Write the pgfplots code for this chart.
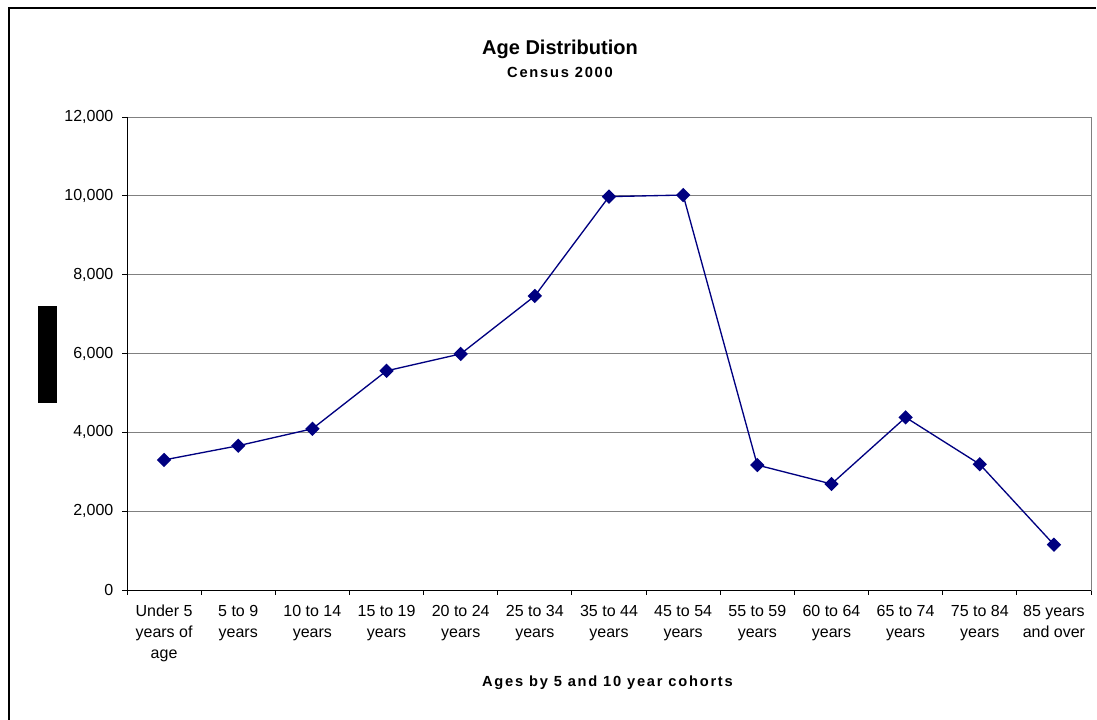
\documentclass[border=0pt]{standalone}
\usepackage{fontspec}
\setmainfont{Liberation Sans}
\usepackage{pgfplots}
\pgfplotsset{compat=1.18}

\definecolor{navyline}{HTML}{000080}
\definecolor{gridgray}{HTML}{808080}

\begin{document}
\begin{tikzpicture}
\useasboundingbox (0,0) rectangle (822.75pt,539.25pt);

% outer chart frame (only top and left edges visible)
\draw[black, line width=1pt] (6.75pt,-2pt) -- (6.75pt,533.25pt) -- (822pt,533.25pt);

\begin{axis}[
    name=ax,
    at={(95.25pt,96.75pt)}, anchor=south west,
    scale only axis, width=723pt, height=354.75pt,
    xmin=-0.5, xmax=12.5,
    ymin=0, ymax=12000,
    xtick={-0.5,0.5,...,12.5},
    xticklabels={},
    extra x ticks={0,1,2,3,4,5,6,7,8,9,10,11,12},
    extra x tick labels={{Under 5\\years of\\age},{5 to 9\\years},{10 to 14\\years},
        {15 to 19\\years},{20 to 24\\years},{25 to 34\\years},{35 to 44\\years},
        {45 to 54\\years},{55 to 59\\years},{60 to 64\\years},{65 to 74\\years},
        {75 to 84\\years},{85 years\\and over}},
    extra x tick style={major tick length=0pt, grid=none},
    ytick={0,2000,4000,6000,8000,10000,12000},
    scaled y ticks=false,
    yticklabel={\pgfmathprintnumber[fixed, precision=0, 1000 sep={,}]{\tick}},
    xtick pos=bottom, ytick pos=left,
    tick align=outside,
    major tick length=3.5pt,
    ymajorgrids,
    grid style={gridgray, line width=0.75pt},
    axis line style={gridgray, line width=0.75pt},
    tick style={black, line width=0.75pt},
    yticklabel style={font=\fontsize{12}{14}\selectfont, xshift=-3.2pt},
    xticklabel style={font=\fontsize{12}{15.75}\selectfont, align=center,
        anchor=north, yshift=-8pt},
    /pgf/number format/assume math mode=true,
]
\addplot[navyline, line width=1pt, mark=square*,
    mark options={rotate=45, fill=navyline, draw=navyline}, mark size=3.3pt]
    coordinates {
    (0,3300) (1,3660) (2,4090) (3,5560) (4,5990) (5,7460) (6,9980)
    (7,10020) (8,3170) (9,2690) (10,4380) (11,3190) (12,1150)
};
\end{axis}

% left and bottom axis lines in black
\draw[black, line width=0.75pt] (ax.north west) -- (ax.south west) -- (ax.south east);

% redacted y-axis label
\fill[black] (28.5pt,237pt) rectangle (42.75pt,309.75pt);

% titles
\node[anchor=base, font=\bfseries\fontsize{15}{18}\selectfont] at (420pt,498pt) {Age Distribution};
\node[anchor=base, font=\bfseries\fontsize{11}{13}\selectfont\addfontfeature{LetterSpace=12}]
    at (420pt,481.3pt) {Census 2000};
\node[anchor=base, font=\bfseries\fontsize{11}{13}\selectfont\addfontfeature{LetterSpace=12}]
    at (455.6pt,24.2pt) {Ages by 5 and 10 year cohorts};
\end{tikzpicture}
\end{document}
